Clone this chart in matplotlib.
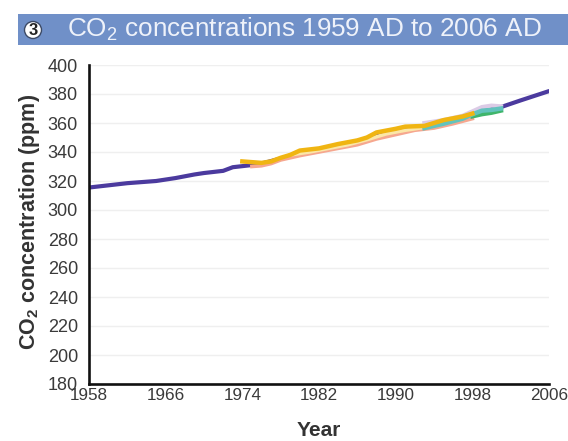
import matplotlib
matplotlib.use("Agg")
import matplotlib.pyplot as plt
from matplotlib.patches import Rectangle, Circle

plt.rcParams["font.family"] = ["Liberation Sans", "DejaVu Sans"]
plt.rcParams["mathtext.fontset"] = "custom"
plt.rcParams["mathtext.rm"] = "Liberation Sans"
plt.rcParams["mathtext.bf"] = "Liberation Sans:bold"

W, H = 568, 441

title = r"CO$_2$ concentrations 1959 AD to 2006 AD"
ylabel = r"CO$_\mathbf{2}$ concentration (ppm)"
xlabel = "Year"
x_ticks = [1958, 1966, 1974, 1982, 1990, 1998, 2006]
y_ticks = list(range(180, 401, 20))

# main record
main_years = [1958, 1960, 1962, 1964, 1965, 1967, 1969, 1970, 1972, 1973, 1975, 1976, 1978, 1980,
              1982, 1984, 1986, 1988, 1990, 1992, 1994, 1996, 1998, 2000, 2001, 2003, 2006]
main_ppm = [315.5, 317, 318.5, 319.5, 320, 322, 324.5, 325.5, 327, 329.5, 331, 332, 335.5, 339,
            341.5, 344.5, 347, 351.5, 354, 356.5, 358.5, 362.5, 366.5, 369.5, 371, 375.5, 382]

salmon_years = [1975, 1976, 1977, 1978, 1980, 1982, 1984, 1986, 1988, 1990, 1992, 1994, 1996, 1998]
salmon_ppm = [330, 330.5, 332, 334.5, 337.5, 340, 342.5, 345, 349, 352, 355, 356.5, 359.5, 363]

pale_years = [1979, 1981, 1983, 1985, 1987, 1989, 1991, 1993]
pale_ppm = [338, 340, 342.5, 345, 348.5, 352.5, 355, 357]

lilac_years = [1993, 1995, 1997, 1998, 1999, 2000, 2001]
lilac_ppm = [360, 362, 365, 368, 371, 372, 371.5]

teal_years = [1993, 1995, 1997, 1998, 1999, 2000, 2001]
teal_ppm = [356.5, 359.5, 363, 366, 368.5, 369, 370]

green_years = [1998, 1999, 2000, 2001]
green_ppm = [364.5, 366, 367, 368.5]

yellow_years = [1974, 1975, 1976, 1977, 1978, 1979, 1980, 1982, 1984, 1986, 1987, 1988, 1990,
                1991, 1993, 1995, 1997, 1998]
yellow_ppm = [333.5, 333, 332.5, 333.5, 336, 338, 341, 342.5, 345.5, 348, 350, 353.5, 356,
              357.5, 358, 362, 364.5, 366.5]

fig = plt.figure(figsize=(W / 100, H / 100), dpi=100)
ax = fig.add_axes([89 / W, 1 - 384 / H, 460 / W, 319 / H])

ax.plot(main_years, main_ppm, color="#4b3a9e", linewidth=3, solid_capstyle="round")
ax.plot(salmon_years, salmon_ppm, color="#f6a78f", linewidth=2.6)
ax.plot(pale_years, pale_ppm, color="#fbe7a8", linewidth=2.6)
ax.plot(lilac_years, lilac_ppm, color="#dccbe6", linewidth=3)
ax.plot(green_years, green_ppm, color="#3fb56b", linewidth=3)
ax.plot(teal_years, teal_ppm, color="#62c3bd", linewidth=3.2)
ax.plot(yellow_years, yellow_ppm, color="#f0b512", linewidth=3.2)

ax.set_xlim(1958, 2006)
ax.set_ylim(180, 400)
ax.set_xticks(x_ticks)
ax.set_yticks(y_ticks)
ax.grid(axis="y", color="#efefef", linewidth=1)
ax.set_axisbelow(True)
ax.tick_params(length=0, labelcolor="#3a3a3a")
ax.tick_params(axis="x", pad=3, labelsize=12.3)
ax.tick_params(axis="y", pad=8, labelsize=13)
for s in ["top", "right"]:
    ax.spines[s].set_visible(False)
for s in ["left", "bottom"]:
    ax.spines[s].set_linewidth(1.9)
    ax.spines[s].set_color("#111111")

fig.text(30 / W, 1 - 222 / H, ylabel, rotation=90, ha="center", va="center",
         fontsize=15.5, fontweight="bold", color="#333333")
fig.text(319 / W, 1 - 431 / H, xlabel, ha="center", va="center",
         fontsize=15, fontweight="bold", color="#333333")

# title banner
fig.add_artist(Rectangle((18 / W, 1 - 45 / H), 550 / W, 31 / H, transform=fig.transFigure,
                         facecolor="#7090c8", edgecolor="none", zorder=-1))
badge = fig.add_axes([0, 0, 1, 1], facecolor="none", zorder=3)
badge.set_axis_off()
badge.set_xlim(0, W)
badge.set_ylim(H, 0)
badge.add_patch(Circle((33, 30), 8.5, facecolor="white", edgecolor="#3c4a66", linewidth=1))
badge.text(33, 30.5, "3", ha="center", va="center", fontsize=12, fontweight="bold", color="#222222")
badge.text(67, 29, title, ha="left", va="center", fontsize=18.8, color="#eef2fa")

fig.savefig("out.png", dpi=100)
